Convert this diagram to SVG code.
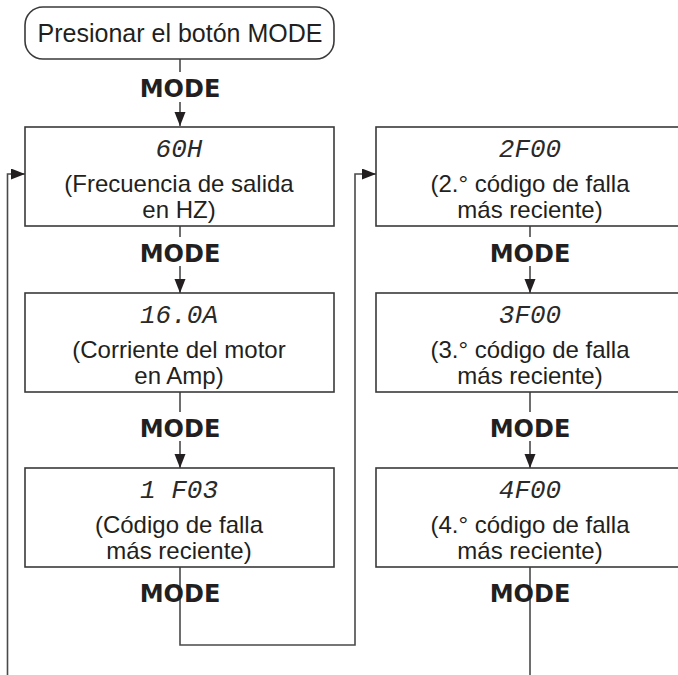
<svg xmlns="http://www.w3.org/2000/svg" width="678" height="675" viewBox="0 0 678 675">
<style>
.box{fill:#fff;stroke:#3a3a3a;stroke-width:1.6}
.txt{font-family:"Liberation Sans",Arial,sans-serif;font-size:24px;fill:#231f20;text-anchor:middle}
.pill{font-size:25px}
.disp{font-family:"Liberation Mono","DejaVu Sans Mono",monospace;font-style:italic;font-size:26px;fill:#2a2a2a;text-anchor:middle}
.mode{font-family:"DejaVu Sans",sans-serif;font-weight:bold;font-size:24px;fill:#231f20;text-anchor:middle}
.con{fill:none;stroke:#4a4a4a;stroke-width:1.6}
</style>
<defs>
<marker id="ah" markerUnits="userSpaceOnUse" markerWidth="16" markerHeight="12" refX="14" refY="5.5" orient="auto">
<path d="M0,0 L14,5.5 L0,11 z" fill="#231f20"/>
</marker>
</defs>
<rect width="678" height="675" fill="#fff"/>
<g id="connectors">
<line class="con" x1="180" y1="59" x2="180" y2="72"/>
<line class="con" x1="180" y1="102" x2="180" y2="126" marker-end="url(#ah)"/>
<line class="con" x1="180" y1="226" x2="180" y2="237"/>
<line class="con" x1="180" y1="266" x2="180" y2="293" marker-end="url(#ah)"/>
<line class="con" x1="180" y1="392" x2="180" y2="412"/>
<line class="con" x1="180" y1="441" x2="180" y2="468" marker-end="url(#ah)"/>
<line class="con" x1="530" y1="226" x2="530" y2="237"/>
<line class="con" x1="530" y1="266" x2="530" y2="293" marker-end="url(#ah)"/>
<line class="con" x1="530" y1="392" x2="530" y2="412"/>
<line class="con" x1="530" y1="441" x2="530" y2="468" marker-end="url(#ah)"/>
<polyline class="con" points="180,567 180,645 355,645 355,174 376,174" marker-end="url(#ah)"/>
<polyline class="con" points="7.5,680 7.5,174 25,174" marker-end="url(#ah)"/>
<line class="con" x1="530" y1="567" x2="530" y2="680"/>
</g>
<g id="start">
<rect class="box" x="25" y="7" width="309" height="52" rx="18"/>
<text class="txt pill" x="180" y="42">Presionar el botón MODE</text>
</g>
<g id="mode-labels">
<text class="mode" x="180" y="97">MODE</text>
<text class="mode" x="180" y="262">MODE</text>
<text class="mode" x="180" y="437">MODE</text>
<text class="mode" x="180" y="602">MODE</text>
<text class="mode" x="530" y="262">MODE</text>
<text class="mode" x="530" y="437">MODE</text>
<text class="mode" x="530" y="602">MODE</text>
</g>
<g id="n60H">
<rect class="box" x="25" y="127" width="309" height="99"/>
<text class="disp" x="179" y="157">60H</text>
<text class="txt" x="179" y="192">(Frecuencia de salida</text>
<text class="txt" x="179" y="218">en HZ)</text>
</g>
<g id="n16A">
<rect class="box" x="25" y="293" width="309" height="99"/>
<text class="disp" x="179" y="323">16.0A</text>
<text class="txt" x="179" y="358">(Corriente del motor</text>
<text class="txt" x="179" y="384">en Amp)</text>
</g>
<g id="n1F03">
<rect class="box" x="25" y="468" width="309" height="99"/>
<text class="disp" x="179" y="498">1 F03</text>
<text class="txt" x="179" y="533">(Código de falla</text>
<text class="txt" x="179" y="559">más reciente)</text>
</g>
<g id="n2F00">
<rect class="box" x="376" y="127" width="320" height="99"/>
<text class="disp" x="530" y="157">2F00</text>
<text class="txt" x="530" y="192">(2.° código de falla</text>
<text class="txt" x="530" y="218">más reciente)</text>
</g>
<g id="n3F00">
<rect class="box" x="376" y="293" width="320" height="99"/>
<text class="disp" x="530" y="323">3F00</text>
<text class="txt" x="530" y="358">(3.° código de falla</text>
<text class="txt" x="530" y="384">más reciente)</text>
</g>
<g id="n4F00">
<rect class="box" x="376" y="468" width="320" height="99"/>
<text class="disp" x="530" y="498">4F00</text>
<text class="txt" x="530" y="533">(4.° código de falla</text>
<text class="txt" x="530" y="559">más reciente)</text>
</g>
</svg>
